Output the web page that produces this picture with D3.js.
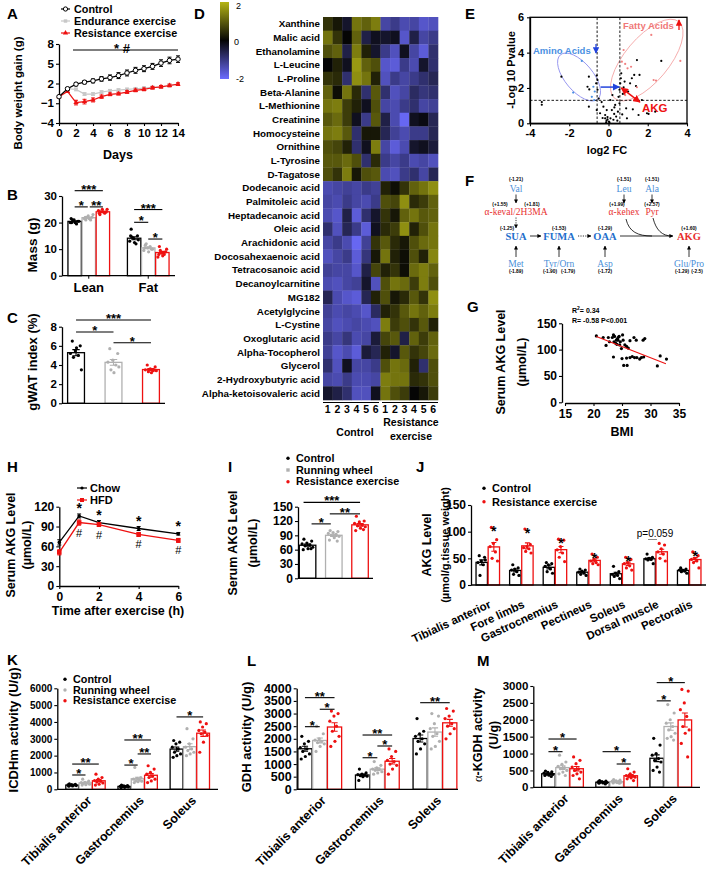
<!DOCTYPE html>
<html><head><meta charset="utf-8">
<script src="https://cdn.jsdelivr.net/npm/d3@7"></script>
<style>
body{margin:0;background:#fff;}
svg{display:block;}
</style></head><body>
<svg id="fig" width="708" height="871"></svg>
<script>
// ================= DATA =================
// A
const daysA = [0,1,2,3,4,5,6,7,8,9,10,11,12,13,14];
const gainControl = [0,1.2,1.9,2.2,2.4,2.7,2.9,3.2,3.6,4.0,4.25,4.6,5.1,5.5,5.7];
const gainEndurance = [0,1.2,1.1,0.4,0.4,0.7,0.9,1.0,1.1,1.2,1.3,1.4,1.5,1.7,1.9];
const gainResistance = [0,0.8,-0.9,-0.75,-0.5,0.0,0.35,0.45,0.7,0.95,1.1,1.35,1.5,1.7,1.9];
const errControl = [0.1,0.2,0.25,0.25,0.3,0.35,0.4,0.45,0.45,0.45,0.45,0.45,0.5,0.5,0.5];
const errEndurance = [0.1,0.15,0.2,0.2,0.2,0.2,0.2,0.2,0.2,0.2,0.2,0.2,0.2,0.2,0.2];
const errResistance = [0.1,0.15,0.35,0.35,0.3,0.25,0.2,0.2,0.2,0.2,0.2,0.2,0.2,0.2,0.2];
const ticksA = [-4,-1,2,5,8];
// B
const groupsB = ["Lean","Fat"];
const massLean = [[20,20.5,21,20,19.5,21,20.5,20,21.5],[21,22,22.5,21.5,21,22,23,21.5,22],[23,24,25,24.5,23.5,24,25,24,23.5]];
const massFat = [[17.5,15,14,13,12,14.5,13.5,12.5,15],[11.5,10,10.5,9.5,11,12,10,9,10.5],[11,9,8.5,7,8,9.5,10,7.5,8]];
// C
const gwatIndex = [[6.5,6,5.5,5.2,5,4.8,3.5,5.8],[5.7,5.2,4.5,4.3,4,3.5,3.8,3.2],[4.0,3.8,3.6,3.5,3.4,3.3,3.4,3.2]];
// D
const heatRows = ["Xanthine","Malic acid","Ethanolamine","L-Leucine","L-Proline","Beta-Alanine","L-Methionine","Creatinine","Homocysteine","Ornithine","L-Tyrosine","D-Tagatose","Dodecanoic acid","Palmitoleic acid","Heptadecanoic acid","Oleic acid","Arachidonic acid","Docosahexaenoic acid","Tetracosanoic acid","Decanoylcarnitine","MG182","Acetylglycine","L-Cystine","Oxoglutaric acid","Alpha-Tocopherol","Glycerol","2-Hydroxybutyric acid","Alpha-ketoisovaleric acid"];
const heatCols = ["1","2","3","4","5","6","1","2","3","4","5","6"];
const heatVals = [
[0.5,0.2,-0.3,1.2,1.0,1.3,-1.2,-1.0,-1.3,-1.2,-1.5,-1.4],
[1.2,0.5,0,1,-0.5,-0.2,-0.3,-0.2,-1.5,-0.5,-1.2,-1.0],
[0.8,1,-0.5,1.3,0.3,-0.3,-1,-1.4,-0.2,-1.2,-1.6,-0.8],
[0,0.3,-0.2,1.6,1,0.8,-1.5,-1.6,-1,-1.3,-0.3,-0.8],
[0.5,0.4,-0.8,1.5,1.2,0.3,-1.4,-1,-1.2,-1,-0.8,-0.6],
[1,0.1,1.2,0.4,-0.8,0.9,-0.8,-1.4,-1.2,-0.7,-0.9,-0.8],
[1.2,1.3,0.6,0.3,-0.2,0.8,-1.2,-1.3,-1,-0.8,-1.2,-1.1],
[0.9,1.1,0.6,-0.2,-1,0.9,-0.5,-1.3,-1.8,-0.2,-0.1,-0.6],
[1.2,1.3,0.9,-0.8,0.2,0.2,-0.6,-1.1,-1.3,-1.0,-1.0,-0.6],
[0.8,0.7,0.3,-0.8,-0.2,1.3,-1.2,-1.6,-1.3,-0.3,-0.2,-0.4],
[0.9,0.9,1.1,0.8,-0.8,0.4,-1.0,-1.2,-1.0,-1.3,-1.2,-1.4],
[0.8,0.5,1.3,0.2,0.8,0.9,-1.3,-1.4,-1.0,-0.8,-1.2,-0.6],
[-1.3,-1.2,-1.1,-1.2,-1.0,-1.1,0.3,0.1,0.5,1.0,1.2,1.5],
[-1.2,-1.3,-1.0,-1.2,-1.3,-1.0,0.8,0.7,1.5,0.4,0.6,1.0],
[-1.3,-1.5,-0.5,-1.6,-0.8,-0.3,0.5,0.2,1.0,1.2,0.9,1.0],
[-0.8,-1.4,-0.6,-1.0,-1.6,-0.2,0.4,0.6,1.5,0.3,0.8,1.2],
[-1.2,-1.0,-1.3,-1.8,-1.1,0.5,0.9,0.4,0.2,0.8,1.1,1.2],
[-1.4,-1.2,-1.0,-1.6,-0.9,0.2,1.2,0.3,0.1,0.8,0.3,1.4],
[-1.1,-1.2,-1.2,-1.5,-0.5,0.7,0.3,0.5,0.1,1.1,1.3,1.0],
[-1.3,-1.4,-1.2,-1.1,-0.3,-1.4,0.8,1.2,1.1,0.6,1.3,0.8],
[-0.6,-1.3,-1.5,-1.6,-0.6,0.3,0.8,0.2,0.4,0.9,0.5,1.5],
[-1.1,-1.3,-1.2,-1.3,-1.5,-0.7,0.3,0.5,0.9,1.2,1.0,1.3],
[-1.2,-1.4,-1.3,-1.2,-1.3,-1.4,1.3,0.6,0.8,0.5,0.9,0.3],
[-1.0,-1.2,-0.9,-1.3,-1.2,-0.4,0.7,0.9,-0.5,1.0,0.6,1.0],
[-1.1,-1.5,-1.3,-1.6,-0.4,-0.6,0.3,-0.3,0.9,0.5,0.7,1.1],
[-0.8,-1.4,-0.2,-1.2,-1.2,-1.0,0.8,1.2,1.1,0.3,-0.8,0.8],
[-1.2,-1.3,-1.0,-1.3,-1.3,-1.2,1.3,1.2,1.2,0.4,0.5,0.8],
[-0.3,-0.5,-0.8,-1.4,-1.4,-0.2,1.2,0.8,0.6,0.0,0.2,0.6]];
// E
const volcanoBlack = [[-3.4,1.05],[-3.4,1.2],[-2.4,2.64],[-1.0,2.64],[-1.07,2.07],[-0.98,1.92],[-1.0,0.94],[-0.63,2.26],[-0.56,2.45],[-0.6,2.7],[-0.56,1.9],[-0.5,1.4],[-0.6,0.75],[-0.43,0.57],[-0.26,0.94],[-0.17,0.47],[-0.09,0.75],[-0.17,0.28],[-0.1,0.15],[-0.05,0.22],[0.02,0.1],[0.1,0.28],[-0.12,0.05],[-0.05,0.35],[0.05,0.05],[0.09,1.32],[0.17,0.75],[0.29,0.53],[0.34,1.04],[0.39,0.38],[0.48,0.66],[0.56,1.13],[0.51,1.5],[0.56,1.9],[0.6,2.26],[0.63,2.55],[0.65,2.83],[0.73,1.66],[0.77,2.04],[0.82,2.36],[0.9,0.85],[0.94,0.28],[1.0,1.8],[1.1,2.26],[1.19,2.55],[1.24,0.79],[1.31,2.74],[1.4,2.11],[1.45,3.58],[1.53,0.47],[1.58,2.74],[1.7,1.32],[1.96,0.57],[2.04,0.53],[2.38,0.66],[2.69,3.53],[0.25,0.2],[0.3,0.9],[-0.3,0.3],[0.45,0.15],[0.7,0.5],[0.2,1.6],[-0.35,1.2]];
const volcanoRed = [[0.77,4.15],[0.68,3.49],[0.85,3.36],[0.97,3.11],[2.18,5.0],[2.3,2.45],[2.42,2.42],[3.66,3.53],[0.85,1.6],[1.45,2.04],[1.15,3.2]];
const volcanoBlue = [[-1.36,3.53],[-1.8,1.74],[-0.85,1.5],[-0.77,2.07],[-0.73,1.32],[-0.7,1.8]];
const ticksEx = [-4,-2,0,2,4], ticksEy = [0,2,4,6];
// G
const gBMI = [20.5,21.7,22.6,22.2,22.8,23.3,23.5,23.7,23.6,24.0,24.2,24.1,24.5,24.7,24.6,25.1,25.2,24.9,25.5,25.8,26.1,23.5,25.0,25.3,25.9,25.8,26.4,26.8,27.2,27.6,28.1,28.4,28.8,26.4,27.1,27.5,28.7,29.0,31.2,31.7,32.8,24.3,23.9,24.4];
const gAKG = [126,123,123,108,115,123,128,125,115,118,121,110,125,115,109,128,118,102,109,106,103,86,83,70,70,84,85,87,85,85,82,85,86,117,123,118,118,121,69,88,82,118,112,124];
const regBMI = [20.5,32.7], regAKG = [125,73];
// H
const timeH = [0,1,2,4,6];
const akgChow = [66,106,96,87,79];
const akgHFD = [51,96,93,78,69];
const errChow = [4,3,3,3,2];
const errHFD = [4,4,3,3,3];
// I
const serumAKG = [[82,78,74,72,70,68,65,62,60,62],[100,98,96,94,92,90,88,85,80,78],[130,120,118,115,112,110,108,105,100,102]];
// J
const musclesJ = ["Tibialis anterior","Fore limbs","Gastrocnemius","Pectineus","Soleus","Dorsal muscle","Pectoralis"];
const akgMuscle = [
 [[55,52,45,42,38,18,47],[108,85,78,72,62,50,45]],
 [[38,32,30,28,25,20,18],[105,76,72,70,68,63,60]],
 [[42,40,38,35,30,25,22],[86,84,72,66,60,52,44]],
 [[30,28,26,24,22,20,18],[58,52,48,45,42,40,38]],
 [[35,25,22,20,18,16,12],[52,48,42,40,36,32,28]],
 [[58,52,50,49,48,47,40],[78,75,68,62,58,50,45]],
 [[32,30,28,28,26,25,22],[62,55,50,48,45,42,32]]];
// K, L, M
const musclesKLM = ["Tibialis anterior","Gastrocnemius","Soleus"];
const icdhm = [
 [[320,300,280,260,250,240,220,200,180],[600,480,420,400,380,350,300,270,250],[900,700,600,520,480,430,380,300,250]],
 [[250,220,200,180,170,160,140,120,100],[1300,700,650,600,550,500,480,450,400],[1400,1200,1000,900,800,700,600,500,400]],
 [[2900,2800,2700,2500,2400,2200,2100,2000,1900],[3600,3000,2700,2500,2400,2300,2200,2100,2000],[4000,3900,3700,3500,3400,3300,3200,2800,2200]]];
const gdh = [
 [[2100,1900,1800,1650,1600,1500,1400,1300,1200],[2500,2200,2000,1950,1900,1850,1800,1700,1500],[3100,3000,2900,2700,2500,2300,2100,1900,1700]],
 [[800,650,600,580,560,540,520,500,350],[1100,950,850,800,780,750,700,650,600],[1600,1500,1300,1150,1100,1000,950,800,600]],
 [[2800,2300,2200,2100,2000,1900,1800,1600,1400],[3000,2900,2600,2400,2200,2100,1900,1700,1600],[3200,3100,2900,2800,2600,2500,2400,2200,2000]]];
const akgdh = [
 [[480,460,440,420,400,390,380,360,350,320],[950,750,680,620,580,550,500,450,400,350],[900,800,700,600,550,500,450,400,350,250]],
 [[200,180,170,160,150,150,140,130,120,100],[230,210,190,180,170,160,150,140,130,120],[550,450,400,350,330,320,300,280,250,200]],
 [[1450,1250,1000,950,850,800,750,600,500,450],[2450,2200,2000,1900,1800,1700,1600,1500,1450,1400],[2900,2850,2500,2300,2100,1800,1700,1600,1300,900]]];

// ================= DRAWING =================
const svg = d3.select('#fig');
const FONT = '"Liberation Sans", Arial, Helvetica, sans-serif';
const SERIF = '"Liberation Serif", "Times New Roman", serif';
const RED = '#ee1111', GREY = '#b0b0b0', BLK = '#000';
const C3 = [BLK, GREY, RED];

const defs = svg.append('defs');
function mk(id,color){
  defs.append('marker').attr('id',id).attr('viewBox','0 0 10 10').attr('refX',9).attr('refY',5)
   .attr('markerWidth',5).attr('markerHeight',5).attr('orient','auto-start-reverse')
   .append('path').attr('d','M0,0L10,5L0,10z').attr('fill',color);
}
mk('ak','#000'); mk('ab','#2244dd'); mk('ar','#ee1111');

function T(x,y,s,o={}){
  const t = svg.append('text').text(s)
    .attr('font-size',o.fs||12).attr('font-weight',o.fw||'bold').attr('fill',o.fill||'#000')
    .attr('text-anchor',o.anchor||'start').attr('font-family',o.ff||FONT);
  if(o.rot!=null) t.attr('transform',`translate(${x},${y}) rotate(${o.rot})`);
  else t.attr('x',x).attr('y',y);
  if(o.dy) t.attr('dy',o.dy);
  return t;
}
function vtitle(x,y,s,fs){ return T(x,y,s,{fs,anchor:'middle',rot:-90,dy:'0.35em'}); }
function letter(x,y,s){ T(x,y,s,{fs:15}); }
function styleAxis(g,fs){
  g.select('path.domain').attr('stroke','#000').attr('stroke-width',1.3);
  g.selectAll('.tick line').attr('stroke','#000').attr('stroke-width',1.1);
  g.selectAll('.tick text').attr('font-size',fs).attr('font-weight','bold').attr('font-family',FONT).attr('fill','#000');
}
function yAxis(x,scale,ticks,fs){
  const g = svg.append('g').attr('transform',`translate(${x},0)`)
    .call(d3.axisLeft(scale).tickValues(ticks).tickSize(3).tickSizeOuter(0).tickPadding(2).tickFormat(d3.format('d')));
  styleAxis(g,fs); return g;
}
function xAxis(y,scale,ticks,fs){
  const g = svg.append('g').attr('transform',`translate(0,${y})`)
    .call(d3.axisBottom(scale).tickValues(ticks).tickSize(3).tickSizeOuter(0).tickPadding(3).tickFormat(d3.format('d')));
  styleAxis(g,fs); return g;
}
function hline(x1,x2,y,w){ svg.append('line').attr('x1',x1).attr('x2',x2).attr('y1',y).attr('y2',y).attr('stroke','#000').attr('stroke-width',w||1.3); }
function sig(x1,x2,y,label){
  hline(x1,x2,y,1.1);
  T((x1+x2)/2,y+3,label,{fs:13,anchor:'middle'});
}
function barChart(o){
  const xb = d3.scaleBand().domain(o.groups).range(o.range).paddingInner(o.pIn).paddingOuter(o.pOut);
  const nS = o.data[0].length;
  const xs = d3.scaleBand().domain(d3.range(nS)).range([0,xb.bandwidth()]).paddingInner(o.sIn);
  const centers = [];
  o.groups.forEach((gn,gi)=>{
    centers[gi]=[];
    o.data[gi].forEach((vals,si)=>{
      const x0 = xb(gn)+xs(si), w = xs.bandwidth(), cx = x0+w/2;
      centers[gi][si]=cx;
      const m = d3.mean(vals), se = d3.deviation(vals)/Math.sqrt(vals.length);
      svg.append('rect').attr('x',x0).attr('y',o.y(m)).attr('width',w).attr('height',o.y(0)-o.y(m))
        .attr('fill','#fff').attr('stroke',o.colors[si]).attr('stroke-width',1.3);
      vals.forEach((v,i)=>{
        const f = (i*0.618034+0.21)%1;
        svg.append('circle').attr('cx',x0+w*(0.12+0.76*f)).attr('cy',o.y(v)).attr('r',o.r||1.6).attr('fill',o.colors[si]);
      });
      const cw = w*0.22;
      svg.append('path').attr('d',`M${cx},${o.y(m-se)}V${o.y(m+se)}M${cx-cw},${o.y(m+se)}H${cx+cw}M${cx-cw},${o.y(m-se)}H${cx+cw}`)
        .attr('stroke',o.colors[si]).attr('stroke-width',1.1).attr('fill','none');
    });
  });
  hline(o.axisX[0],o.axisX[1],o.y(0),1.3);
  return {xb, centers};
}
function dotLegend(x,y0,dy,items,fs){
  items.forEach((it,i)=>{
    const y = y0+i*dy;
    if(it.sq) svg.append('rect').attr('x',x-1.7).attr('y',y-1.7).attr('width',3.4).attr('height',3.4).attr('fill',it.c);
    else svg.append('circle').attr('cx',x).attr('cy',y).attr('r',1.7).attr('fill',it.c);
    T(x+8,y,it.t,{fs,dy:'0.35em'});
  });
}

// ---------- A ----------
letter(7,19,'A');
{
  const x = d3.scaleLinear([0,14],[59,178]), y = d3.scaleLinear([-4,8],[123,44]);
  yAxis(59,y,ticksA,11.5);
  xAxis(123,x,[0,2,4,6,8,10,12,14],11.5);
  vtitle(18,93,'Body weight gain (g)',11.5);
  T(118,159,'Days',{fs:12.5,anchor:'middle'});
  const series = [
    {v:gainEndurance,e:errEndurance,c:'#c8c8c8',m:'sq'},
    {v:gainResistance,e:errResistance,c:RED,m:'tri'},
    {v:gainControl,e:errControl,c:BLK,m:'oc'}];
  series.forEach(s=>{
    const line = d3.line().x((d,i)=>x(daysA[i])).y(d=>y(d));
    svg.append('path').attr('d',line(s.v)).attr('fill','none').attr('stroke',s.c).attr('stroke-width',1.2);
    s.v.forEach((v,i)=>{
      const cx = x(daysA[i]);
      svg.append('path').attr('d',`M${cx},${y(v-s.e[i])}V${y(v+s.e[i])}M${cx-2},${y(v+s.e[i])}H${cx+2}M${cx-2},${y(v-s.e[i])}H${cx+2}`).attr('stroke',s.c).attr('stroke-width',1);
      const g = svg.append('path').attr('transform',`translate(${cx},${y(v)})`);
      if(s.m==='oc') g.attr('d',d3.symbol().type(d3.symbolCircle).size(16)()).attr('fill','#fff').attr('stroke','#000').attr('stroke-width',1);
      else if(s.m==='sq') g.attr('d',d3.symbol().type(d3.symbolSquare).size(12)()).attr('fill',s.c);
      else g.attr('d',d3.symbol().type(d3.symbolTriangle).size(12)()).attr('fill',s.c);
    });
  });
  const leg = [{t:'Control',c:BLK,m:'oc'},{t:'Endurance exercise',c:'#c8c8c8',m:'sq'},{t:'Resistance exercise',c:RED,m:'tri'}];
  leg.forEach((l,i)=>{
    const yy = 9+i*12;
    svg.append('line').attr('x1',61).attr('x2',70).attr('y1',yy).attr('y2',yy).attr('stroke',l.c).attr('stroke-width',1.2);
    const g = svg.append('path').attr('transform',`translate(65.5,${yy})`);
    if(l.m==='oc') g.attr('d',d3.symbol().type(d3.symbolCircle).size(14)()).attr('fill','#fff').attr('stroke','#000');
    else if(l.m==='sq') g.attr('d',d3.symbol().type(d3.symbolSquare).size(12)()).attr('fill',l.c);
    else g.attr('d',d3.symbol().type(d3.symbolTriangle).size(12)()).attr('fill',l.c);
    T(74,yy,l.t,{fs:10.8,dy:'0.35em'});
  });
  hline(73,178,50,1.2);
  T(122,53,'* #',{fs:13,anchor:'middle'});
}

// ---------- B ----------
letter(7,200,'B');
{
  const y = d3.scaleLinear([0,30],[275.7,196]);
  yAxis(62,y,[0,10,20,30],11.5);
  const r = barChart({y,groups:groupsB,data:[massLean,massFat],range:[62,175],pIn:0.3,pOut:0.1,sIn:0.05,colors:C3,axisX:[62,175]});
  groupsB.forEach((g,i)=>{
    const cx = r.xb(g)+r.xb.bandwidth()/2;
    svg.append('line').attr('x1',cx).attr('x2',cx).attr('y1',275.7).attr('y2',278.7).attr('stroke','#000');
    T(cx,292,g,{fs:13,anchor:'middle'});
  });
  vtitle(32,245,'Mass (g)',13.5);
  const c = r.centers;
  sig(c[0][0],c[0][2],y(32),'***');
  sig(c[0][0],c[0][1]-1,y(25.9),'*');
  sig(c[0][1]+1,c[0][2],y(25.9),'**');
  sig(c[1][0],c[1][2],y(24.9),'***');
  sig(c[1][0],c[1][1],y(20.1),'*');
  sig(c[1][1],c[1][2],y(13.8),'*');
}

// ---------- C ----------
letter(7,323,'C');
{
  const y = d3.scaleLinear([0,8],[403.3,326.7]);
  yAxis(62,y,[0,2,4,6,8],11.5);
  const r = barChart({y,groups:['all'],data:[gwatIndex],range:[67.6,159.4],pIn:0,pOut:0,sIn:0.55,colors:C3,axisX:[62,165]});
  vtitle(32,362,'gWAT index (%)',13);
  const c = r.centers[0];
  sig(c[0],c[2],y(8.7),'***');
  sig(c[0],c[1],y(7.45),'*');
  sig(c[1],c[2],y(6.33),'*');
}

// ---------- D ----------
letter(194,19,'D');
{
  const color = d3.scaleLinear().domain([-1.9,0,1.9]).range(['#6c6cff','#050505','#b4b414']).clamp(true);
  const grad = defs.append('linearGradient').attr('id','cb').attr('x1',0).attr('x2',0).attr('y1',0).attr('y2',1);
  grad.append('stop').attr('offset','0%').attr('stop-color',color(2));
  grad.append('stop').attr('offset','50%').attr('stop-color',color(0));
  grad.append('stop').attr('offset','100%').attr('stop-color',color(-2));
  svg.append('rect').attr('x',220).attr('y',2).attr('width',9).attr('height',77).attr('fill','url(#cb)');
  T(236,9,'2',{fs:9,fw:'normal'});
  T(234,45,'0',{fs:9,fw:'normal'});
  T(236,82,'-2',{fs:9,fw:'normal'});
  const xh = d3.scaleBand().domain(d3.range(12)).range([323,438]);
  const yh = d3.scaleBand().domain(heatRows).range([17,400]);
  heatVals.forEach((row,ri)=>{
    row.forEach((v,ci)=>{
      svg.append('rect').attr('x',xh(ci)).attr('y',yh(heatRows[ri])).attr('width',xh.bandwidth()+0.3).attr('height',yh.bandwidth()+0.3).attr('fill',color(v));
    });
    T(320,yh(heatRows[ri])+yh.bandwidth()/2,heatRows[ri],{fs:9.8,anchor:'end',dy:'0.35em'});
  });
  heatCols.forEach((c,ci)=>T(xh(ci)+xh.bandwidth()/2,413,c,{fs:10.5,anchor:'middle'}));
  hline(323,379,402.5,1.2); hline(382,438,402.5,1.2);
  T(355,436,'Control',{fs:10.5,anchor:'middle'});
  T(411,426,'Resistance',{fs:10.5,anchor:'middle'});
  T(411,440,'exercise',{fs:10.5,anchor:'middle'});
}

// ---------- E ----------
letter(465,19,'E');
{
  const x = d3.scaleLinear([-4,4],[530,687]), y = d3.scaleLinear([0,6],[123.3,17.3]);
  const eb = [x(-1.5),y(2.62)], er = [x(1.95),y(3.58)];
  svg.append('ellipse').attr('cx',0).attr('cy',0).attr('rx',29).attr('ry',14).attr('transform',`translate(${eb[0]},${eb[1]}) rotate(50)`).attr('fill','none').attr('stroke','#8888ee').attr('stroke-width',0.8);
  svg.append('ellipse').attr('cx',0).attr('cy',0).attr('rx',50).attr('ry',22).attr('transform',`translate(${er[0]},${er[1]}) rotate(-50)`).attr('fill','none').attr('stroke','#f4a0a0').attr('stroke-width',0.8);
  [-0.58,0.58].forEach(v=>svg.append('line').attr('x1',x(v)).attr('x2',x(v)).attr('y1',y(0)).attr('y2',y(6)).attr('stroke','#000').attr('stroke-width',0.9).attr('stroke-dasharray','2.5,1.8'));
  svg.append('line').attr('x1',x(-4)).attr('x2',x(4)).attr('y1',y(1.3)).attr('y2',y(1.3)).attr('stroke','#000').attr('stroke-width',0.9).attr('stroke-dasharray','2.5,1.8');
  volcanoBlack.forEach(p=>svg.append('circle').attr('cx',x(p[0])).attr('cy',y(p[1])).attr('r',1.1).attr('fill','#000'));
  volcanoRed.forEach(p=>svg.append('circle').attr('cx',x(p[0])).attr('cy',y(p[1])).attr('r',1.1).attr('fill','#f08080'));
  volcanoBlue.forEach(p=>svg.append('circle').attr('cx',x(p[0])).attr('cy',y(p[1])).attr('r',1.1).attr('fill','#4a90e2'));
  svg.append('rect').attr('x',530).attr('y',17.3).attr('width',157).attr('height',106).attr('fill','none').attr('stroke','#000').attr('stroke-width',1.3);
  const gx = svg.append('g').attr('transform','translate(0,123.3)').call(d3.axisBottom(x).tickValues(ticksEx).tickSize(3).tickSizeOuter(0).tickFormat(d3.format('d')));
  styleAxis(gx,11);
  const gy = svg.append('g').attr('transform','translate(530,0)').call(d3.axisLeft(y).tickValues(ticksEy).tickSize(3).tickSizeOuter(0).tickFormat(d3.format('d')));
  styleAxis(gy,11);
  gx.selectAll('.tick text').text(d=>d<0?'-'+Math.abs(d):d);
  vtitle(511,70,'-Log 10 Pvalue',11);
  T(607,154,'log2 FC',{fs:11,anchor:'middle'});
  T(533,54,'Amino Acids',{fs:9.5,fill:'#4a90e2'});
  svg.append('line').attr('x1',596).attr('x2',596).attr('y1',44).attr('y2',53).attr('stroke','#2244dd').attr('stroke-width',1.3).attr('marker-end','url(#ab)');
  T(623,29,'Fatty Acids',{fs:9.5,fill:'#f07878'});
  svg.append('line').attr('x1',679).attr('x2',679).attr('y1',30).attr('y2',20).attr('stroke','#ee1111').attr('stroke-width',1.3).attr('marker-end','url(#ar)');
  T(642,112,'AKG',{fs:11.5,fill:'#ee1111'});
  svg.append('line').attr('x1',x(-0.4)).attr('x2',x(0.55)).attr('y1',y(2.05)).attr('y2',y(2.05)).attr('stroke','#2244dd').attr('stroke-width',1.5).attr('marker-end','url(#ab)');
  svg.append('line').attr('x1',x(0.65)).attr('x2',x(1.6)).attr('y1',y(2.0)).attr('y2',y(1.2)).attr('stroke','#ee1111').attr('stroke-width',1.5).attr('marker-end','url(#ar)').attr('marker-start','url(#ar)');
}

// ---------- F ----------
letter(465,186,'F');
{
  const BL = '#4a8fd8', BLD = '#1f6fcc', RD = '#e83030';
  const small = (x,y,s)=>T(x,y,s,{fs:4.8,anchor:'middle'});
  const name = (x,y,s,c,bold)=>T(x,y,s,{fs:bold?10.5:9.5,fw:bold?'bold':'normal',ff:SERIF,fill:c,anchor:'middle',dy:'0.35em'});
  const arr = (x1,y1,x2,y2,dash)=>{ const l=svg.append('line').attr('x1',x1).attr('y1',y1).attr('x2',x2).attr('y2',y2).attr('stroke','#000').attr('stroke-width',0.8).attr('marker-end','url(#ak)'); if(dash) l.attr('stroke-dasharray','1.2,1.2'); };
  small(516,181,'(-1.21)'); name(516,188.5,'Val',BL);
  arr(516,194.5,516,203);
  small(500,206,'(+1.55)'); small(532,206,'(+1.81)');
  name(516,212,'α-keval/2H3MA',RD);
  arr(516,217.5,516,228,true);
  small(507,230,'(-1.25)'); name(516,236.5,'SUA',BLD,true);
  arr(530,236,541,236);
  small(559,229.5,'(-1.53)'); name(559,236.5,'FUMA',BLD,true);
  arr(578,236,591,236,true);
  small(605,229.5,'(-1.29)'); name(605,236.5,'OAA',BLD,true);
  arr(620,236,673,236);
  small(689,229.5,'(+1.60)'); name(689,236.5,'AKG',RD,true);
  name(516,263.5,'Met',BL); small(516,273,'(-1.89)'); arr(516,257,516,246);
  name(559,263.5,'Tyr/Orn',BL); small(550,273,'(-1.90)'); small(568,273,'(-1.79)'); arr(559,257,559,246);
  name(605,263.5,'Asp',BL); small(605,273,'(-1.72)'); arr(605,257,605,246);
  name(689,263.5,'Glu/Pro',BL); small(682,273,'(-1.29)'); small(697,273,'(-2.5)'); arr(689,257,689,246);
  small(624,181,'(-1.51)'); name(624,188.5,'Leu',BL); arr(624,194.5,624,203);
  small(652,181,'(-1.51)'); name(652,188.5,'Ala',BL); arr(652,194.5,652,203);
  small(617,206,'(+1.99)'); name(624,212,'α-kehex',RD);
  small(652,206,'(+2.57)'); name(652,212,'Pyr',RD);
  svg.append('path').attr('d','M626,219 C629,232 638,236 652,236').attr('fill','none').attr('stroke','#000').attr('stroke-width',0.8);
  svg.append('path').attr('d','M653,218 C656,230 662,236 672,236').attr('fill','none').attr('stroke','#000').attr('stroke-width',0.8);
}

// ---------- G ----------
letter(467,312,'G');
{
  const x = d3.scaleLinear([15,35],[565,679]), y = d3.scaleLinear([0,150],[402.3,323.3]);
  yAxis(562,y,[0,50,100,150],12);
  xAxis(403,x,[15,20,25,30,35],12);
  gBMI.forEach((b,i)=>svg.append('circle').attr('cx',x(b)).attr('cy',y(gAKG[i])).attr('r',1.6).attr('fill','#000'));
  svg.append('line').attr('x1',x(regBMI[0])).attr('x2',x(regBMI[1])).attr('y1',y(regAKG[0])).attr('y2',y(regAKG[1])).attr('stroke',RED).attr('stroke-width',1.1);
  const t = T(572,313,'R',{fs:7}); t.append('tspan').text('2').attr('font-size',5).attr('dy',-3); t.append('tspan').text('= 0.34').attr('dy',3);
  T(572,323,'R= -0.58 P<0.001',{fs:7});
  vtitle(501,362,'Serum AKG Level',12.5);
  vtitle(522,362,'(µmol/L)',12.5);
  T(622,436,'BMI',{fs:12.5,anchor:'middle'});
}

// ---------- H ----------
letter(7,472,'H');
{
  const x = d3.scaleLinear([0,6],[59.3,178.3]), y = d3.scaleLinear([0,120],[586,506.7]);
  yAxis(59.3,y,[0,30,60,90,120],12);
  xAxis(586,x,[0,2,4,6],12);
  [{v:akgChow,e:errChow,c:BLK,m:'c'},{v:akgHFD,e:errHFD,c:RED,m:'s'}].forEach(s=>{
    svg.append('path').attr('d',d3.line().x((d,i)=>x(timeH[i])).y(d=>y(d))(s.v)).attr('fill','none').attr('stroke',s.c).attr('stroke-width',1.3);
    s.v.forEach((v,i)=>{
      const cx=x(timeH[i]);
      svg.append('path').attr('d',`M${cx},${y(v-s.e[i])}V${y(v+s.e[i])}M${cx-2},${y(v+s.e[i])}H${cx+2}M${cx-2},${y(v-s.e[i])}H${cx+2}`).attr('stroke',s.c).attr('stroke-width',1);
      if(s.m==='c') svg.append('circle').attr('cx',cx).attr('cy',y(v)).attr('r',1.8).attr('fill',s.c);
      else svg.append('rect').attr('x',cx-2.3).attr('y',y(v)-2.3).attr('width',4.6).attr('height',4.6).attr('fill',s.c);
    });
  });
  timeH.forEach((t,i)=>{ if(i>0){
    T(x(t),y(akgChow[i])-3,'*',{fs:14,anchor:'middle'});
    T(x(t),y(akgHFD[i])+14,'#',{fs:11,fw:'normal',anchor:'middle'});
  }});
  svg.append('line').attr('x1',77).attr('x2',87).attr('y1',488).attr('y2',488).attr('stroke',BLK).attr('stroke-width',1.2);
  svg.append('circle').attr('cx',82).attr('cy',488).attr('r',1.6).attr('fill',BLK);
  T(90,488,'Chow',{fs:11,dy:'0.35em'});
  svg.append('line').attr('x1',77).attr('x2',87).attr('y1',500).attr('y2',500).attr('stroke',RED).attr('stroke-width',1.2);
  svg.append('rect').attr('x',80).attr('y',498).attr('width',4).attr('height',4).attr('fill',RED);
  T(90,500,'HFD',{fs:11,dy:'0.35em'});
  vtitle(11,545,'Serum AKG Level',12.5);
  vtitle(27,545,'(µmol/L)',12.5);
  T(118,615,'Time after exercise (h)',{fs:12.5,anchor:'middle'});
}

// ---------- I ----------
letter(228,472,'I');
{
  const y = d3.scaleLinear([0,150],[578.3,506.7]);
  yAxis(298,y,[0,30,60,90,120,150],12);
  const r = barChart({y,groups:['all'],data:[serumAKG],range:[299.3,368.3],pIn:0,pOut:0,sIn:0.37,colors:C3,axisX:[298,373]});
  const c = r.centers[0];
  sig(c[0]-4,c[2],y(159),'***');
  sig(c[0]+4,c[1]-3,y(114),'*');
  sig(c[1]-4,c[2],y(135),'**');
  dotLegend(288,458.3,11.7,[{t:'Control',c:BLK},{t:'Running wheel',c:GREY,sq:true},{t:'Resistance exercise',c:RED}],10.8);
  vtitle(233,543,'Serum AKG Level',12.5);
  vtitle(253,543,'(µmol/L)',12.5);
}

// ---------- J ----------
letter(416,472,'J');
{
  const y = d3.scaleLinear([0,150],[585,505]);
  yAxis(471,y,[0,50,100,150],12);
  const r = barChart({y,groups:musclesJ,data:akgMuscle,range:[471,706],pIn:0.3,pOut:0.15,sIn:0.06,colors:[BLK,RED],axisX:[471,706]});
  musclesJ.forEach((m,i)=>{
    const cx = r.xb(m)+r.xb.bandwidth()/2;
    if(m!=='Dorsal muscle'){
      const top = d3.max(akgMuscle[i][1]);
      T(r.centers[i][1],y(top)+9,'*',{fs:14,anchor:'middle'});
    }
    T(cx+4,607,m,{fs:11.5,anchor:'end',rot:-25});
  });
  T(655,537,'p=0.059',{fs:10,fw:'normal',anchor:'middle'});
  svg.append('line').attr('x1',648).attr('x2',657).attr('y1',539.5).attr('y2',539.5).attr('stroke','#888').attr('stroke-width',1);
  dotLegend(484,488.3,13.4,[{t:'Control',c:BLK},{t:'Resistance exercise',c:RED}],11);
  vtitle(427,545,'AKG Level',12.5);
  vtitle(445,545,'(µmol/g.tissue weight)',11);
}

// ---------- K, L, M ----------
function activityPanel(o){
  yAxis(o.ax,o.y,o.ticks,o.tfs);
  const r = barChart({y:o.y,groups:musclesKLM,data:o.data,range:o.range,pIn:o.pIn,pOut:o.pOut,sIn:0.04,colors:C3,axisX:[o.ax,o.range[1]]});
  musclesKLM.forEach((m,i)=>{
    const cx = r.xb(m)+r.xb.bandwidth()/2;
    T(cx+7,o.y(0)+12,m,{fs:12.5,anchor:'end',rot:-45});
  });
  o.sigs.forEach(s=>{
    const c = r.centers[s[0]];
    sig(c[s[1]],c[s[2]],o.y(s[3]),s[4]);
  });
  return r;
}
letter(7,665,'K');
activityPanel({ax:57.3,y:d3.scaleLinear([0,6000],[789.3,688.3]),ticks:[0,1000,2000,3000,4000,5000,6000],tfs:10,
  data:icdhm,range:[57.3,218],pIn:0.245,pOut:0.163,
  sigs:[[0,0,1,850,'*'],[0,0,2,1500,'**'],[1,0,2,2930,'**'],[1,0,1,1440,'*'],[1,1,2,2100,'**'],[2,0,2,4300,'*']]});
dotLegend(65,679.3,10.7,[{t:'Control',c:BLK},{t:'Running wheel',c:GREY},{t:'Resistance exercise',c:RED}],10.8);
vtitle(13,730,'ICDHm activity (U/g)',13);

letter(247,666,'L');
activityPanel({ax:296.7,y:d3.scaleLinear([0,4000],[789.3,688.3]),ticks:[0,500,1000,1500,2000,2500,3000,3500,4000],tfs:12.5,
  data:gdh,range:[296.7,458],pIn:0.24,pOut:0.02,
  sigs:[[0,0,2,3630,'**'],[0,0,1,2480,'*'],[0,1,2,3170,'*'],[1,0,2,2150,'**'],[1,0,1,1250,'*'],[1,1,2,1715,'*'],[2,0,2,3430,'**']]});
vtitle(246,737,'GDH activity (U/g)',13);

letter(477,666,'M');
activityPanel({ax:533.3,y:d3.scaleLinear([0,3000],[787.3,686]),ticks:[0,500,1000,1500,2000,2500,3000],tfs:11.5,
  data:akgdh,range:[533.3,700],pIn:0.23,pOut:0.155,
  sigs:[[0,0,1,1055,'*'],[0,0,2,1430,'*'],[1,0,2,1055,'*'],[1,1,2,690,'*'],[2,0,2,3100,'*'],[2,0,1,2560,'*']]});
{
  const t = vtitle(478,735,'',12.5);
  t.append('tspan').text('α').attr('font-family',SERIF).attr('font-weight','normal');
  t.append('tspan').text('-KGDH activity');
}
vtitle(494,735,'(U/g)',12.5);
</script>
</body></html>
